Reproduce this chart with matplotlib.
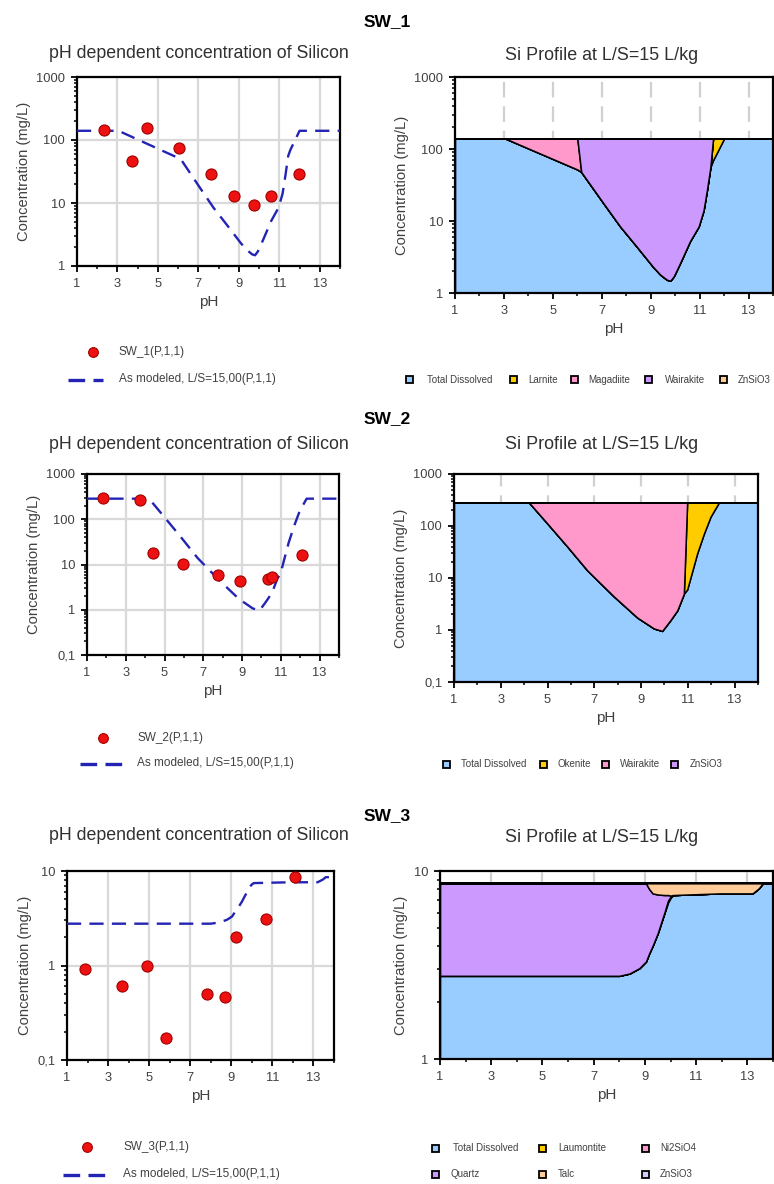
import matplotlib
matplotlib.use("Agg")
import matplotlib.pyplot as plt
from matplotlib.lines import Line2D
from matplotlib.patches import Rectangle
from matplotlib.ticker import FixedLocator, FuncFormatter, LogLocator, NullFormatter

plt.rcParams["font.family"] = ["Liberation Sans", "DejaVu Sans"]

# ---------------------------------------------------------------- data
# SW_1 measured and modeled Si (mg/L) vs pH
SW1_PH_OBS = [2.35, 3.72, 4.46, 6.06, 7.63, 8.78, 9.77, 10.59, 11.98]
SW1_SI_OBS = [143, 47, 156, 75, 28.7, 12.7, 9.3, 12.7, 28.4]

SW1_PH_MOD = [1.0, 3.05, 6.0, 6.16, 7.07, 7.75, 8.43, 9.1, 9.39, 9.66, 9.8,
              9.94, 10.2, 10.6, 10.96, 11.16, 11.3, 11.44, 11.55, 11.75, 12.0, 14.0]
SW1_DISSOLVED = [140, 140, 52, 48, 17.6, 8.4, 4.4, 2.3, 1.8, 1.53, 1.48,
                 1.7, 2.6, 5.2, 8.4, 14, 27, 56, 70, 95, 140, 140]
SW1_LARNITE = [0, 0, 0, 0, 0, 0, 0, 0, 0, 0, 0,
               0, 0, 0, 0, 0, 0, 0, 70, 45, 0, 0]
SW1_MAGADIITE = [0, 0, 88, 0, 0, 0, 0, 0, 0, 0, 0,
                 0, 0, 0, 0, 0, 0, 0, 0, 0, 0, 0]
SW1_WAIRAKITE = [0, 0, 0, 92, 122.4, 131.6, 135.6, 137.7, 138.2, 138.5, 138.5,
                 138.3, 137.4, 134.8, 131.6, 126, 113, 84, 0, 0, 0, 0]
SW1_ZNSIO3 = [0] * 22
SW1_LABELS = ["Total Dissolved", "Larnite", "Magadiite", "Wairakite", "ZnSiO3"]

# SW_2
SW2_PH_OBS = [1.84, 3.72, 4.38, 5.93, 7.74, 8.91, 10.33, 10.55, 12.1]
SW2_SI_OBS = [290, 265, 17.6, 10.2, 6.0, 4.3, 4.7, 5.2, 16.2]

SW2_PH_MOD = [1.0, 4.2, 4.99, 5.85, 6.7, 7.84, 8.84, 9.55, 9.9, 10.26,
              10.55, 10.83, 10.97, 11.4, 11.69, 11.97, 12.33, 14.0]
SW2_DISSOLVED = [285, 285, 112, 40, 14, 4.4, 1.73, 1.07, 0.96, 1.56,
                 2.4, 5.0, 6.0, 30, 72, 151, 285, 285]
SW2_OKENITE = [0, 0, 0, 0, 0, 0, 0, 0, 0, 0,
               0, 0, 279, 255, 213, 134, 0, 0]
SW2_WAIRAKITE = [0, 0, 173, 245, 271, 280.6, 283.3, 283.9, 284, 283.4,
                 282.6, 280, 0, 0, 0, 0, 0, 0]
SW2_ZNSIO3 = [0] * 18
SW2_LABELS = ["Total Dissolved", "Okenite", "Wairakite", "ZnSiO3"]

# SW_3
SW3_PH_OBS = [1.86, 3.68, 4.9, 5.82, 7.84, 8.68, 9.25, 10.69, 12.09]
SW3_SI_OBS = [0.91, 0.60, 1.0, 0.172, 0.505, 0.46, 2.0, 3.1, 8.6]

SW3_PH_MOD = [1.0, 8.0, 8.4, 8.78, 9.04, 9.17, 9.3, 9.5, 9.76, 9.9, 10.0,
              10.1, 11.9, 13.2, 13.45, 13.6, 14.0]
SW3_DISSOLVED = [2.77, 2.77, 2.85, 3.04, 3.3, 3.66, 4.0, 4.67, 5.96, 6.8, 7.2,
                 7.45, 7.6, 7.6, 8.1, 8.6, 8.6]
SW3_LAUMONTITE = [0, 0, 0, 0, 0, 0, 0, 0, 0.05, 0.15, 0.1,
                  0, 0, 0, 0, 0, 0]
SW3_NI2SIO4 = [0] * 17
SW3_QUARTZ = [5.83, 5.83, 5.75, 5.56, 5.3, 4.34, 3.6, 2.83, 1.44, 0.5, 0.1,
              0, 0, 0, 0, 0, 0]
SW3_TALC = [0, 0, 0, 0, 0, 0.6, 1.0, 1.1, 1.15, 1.15, 1.2,
            1.15, 1.0, 1.0, 0.5, 0, 0]
SW3_ZNSIO3 = [0] * 17
SW3_LABELS = ["Total Dissolved", "Laumontite", "Ni2SiO4", "Quartz", "Talc", "ZnSiO3"]

PH_TICKS = [1, 3, 5, 7, 9, 11, 13]
PH_MINOR = [2, 4, 6, 8, 10, 12, 14]

# ---------------------------------------------------------------- style
W, H = 774, 1184
LAYER_COLORS = ["#99ccff", "#ffcc00", "#ff99cc", "#cc99ff", "#ffcc99", "#ccccff"]
MODEL_BLUE = "#2424b4"
OBS_RED = "#ee1111"
TEXT_GREY = "#404040"
DASH = (0, (6, 3.5))

fig = plt.figure(figsize=(W / 100, H / 100), dpi=100)


def fx(x):
    return x / W


def fy(y):
    return 1 - y / H


def px_axes(x0, y0, x1, y1):
    return fig.add_axes([fx(x0), fy(y1), (x1 - x0) / W, (y1 - y0) / H])


def style_axes(ax, ylim, yticks):
    ax.set_yscale("log")
    ax.set_xlim(1, 14)
    ax.set_ylim(*ylim)
    ax.xaxis.set_major_locator(FixedLocator(PH_TICKS))
    ax.xaxis.set_minor_locator(FixedLocator(PH_MINOR))
    ax.yaxis.set_major_locator(FixedLocator(yticks))
    ax.yaxis.set_major_formatter(FuncFormatter(lambda v, p: f"{v:g}".replace(".", ",")))
    ax.yaxis.set_minor_locator(LogLocator(base=10, subs=range(2, 10)))
    ax.yaxis.set_minor_formatter(NullFormatter())
    for s in ax.spines.values():
        s.set_linewidth(1.6)
        s.set_color("black")
    ax.tick_params(which="major", direction="out", length=4.5, width=1.3,
                   labelsize=9.3, labelcolor=TEXT_GREY, pad=4)
    ax.tick_params(which="minor", direction="out", length=2.5, width=1.1)
    ax.set_xlabel("pH", fontsize=11, color=TEXT_GREY, labelpad=4)
    ax.set_ylabel("Concentration (mg/L)", fontsize=10.6, color=TEXT_GREY, labelpad=4)


def scatter_panel(box, ph_obs, si_obs, ph_mod, si_mod, ylim, yticks):
    ax = px_axes(*box)
    style_axes(ax, ylim, yticks)
    ax.grid(True, which="major", color="#d9d9d9", lw=1.6)
    ax.set_axisbelow(True)
    ax.plot(ph_mod, si_mod, ls=DASH, color=MODEL_BLUE, lw=1.7, zorder=3)
    ax.plot(ph_obs, si_obs, ls="none", marker="o", ms=8, mfc=OBS_RED,
            mec="#a00000", mew=0.8, zorder=4, clip_on=False)
    return ax


def area_panel(box, ph, layers, ylim, yticks):
    ax = px_axes(*box)
    style_axes(ax, ylim, yticks)
    ax.xaxis.grid(True, which="major", color="#d0d0d0", lw=1.6, ls=(0, (7, 4)))
    ax.set_axisbelow(True)
    lower = [ylim[0] * 1e-3] * len(ph)
    running = [0.0] * len(ph)
    for i, layer in enumerate(layers):
        running = [r + v for r, v in zip(running, layer)]
        ax.fill_between(ph, lower, running, facecolor=LAYER_COLORS[i],
                        edgecolor="black", lw=1.1, zorder=2)
        lower = running
    return ax


def model_legend(marker_xy, line_x, line_y, text_x, obs_label):
    mx, my = marker_xy
    fig.add_artist(Line2D([fx(mx)], [fy(my)], transform=fig.transFigure, ls="none",
                          marker="o", ms=7, mfc=OBS_RED, mec="#a00000", mew=0.8))
    fig.text(fx(text_x), fy(my), obs_label, fontsize=8.5, color=TEXT_GREY,
             ha="left", va="center")
    fig.add_artist(Line2D([fx(line_x[0]), fx(line_x[1])], [fy(line_y)] * 2,
                          transform=fig.transFigure, ls=(0, (5, 2.5)),
                          color=MODEL_BLUE, lw=2.4))
    fig.text(fx(text_x), fy(line_y - 1), "As modeled, L/S=15,00(P,1,1)",
             fontsize=8.5, color=TEXT_GREY, ha="left", va="center")


def layer_legend(entries, labels):
    for (sx, sy, tx), label, color in zip(entries, labels, LAYER_COLORS):
        s = 7
        fig.add_artist(Rectangle((fx(sx - s / 2), fy(sy + s / 2)), s / W, s / H,
                                 transform=fig.transFigure, facecolor=color,
                                 edgecolor="black", lw=1.3))
        fig.text(fx(tx), fy(sy), label, fontsize=7, color=TEXT_GREY,
                 ha="left", va="center")


def headings(y_main, y_left, y_right, name):
    fig.text(fx(387), fy(y_main), name, fontsize=12.5, fontweight="bold",
             ha="center", va="center", color="black")
    fig.text(fx(199), fy(y_left), "pH dependent concentration of Silicon",
             fontsize=12.8, ha="center", va="center", color="#303030")
    fig.text(fx(602), fy(y_right), "Si Profile at L/S=15 L/kg",
             fontsize=12.9, ha="center", va="center", color="#303030")


# ---------------------------------------------------------------- SW_1
headings(22, 53, 55, "SW_1")
scatter_panel((77, 77, 340, 266), SW1_PH_OBS, SW1_SI_OBS, SW1_PH_MOD, SW1_DISSOLVED,
              (1, 1000), [1, 10, 100, 1000])
area_panel((455, 77, 773, 293), SW1_PH_MOD,
           [SW1_DISSOLVED, SW1_LARNITE, SW1_MAGADIITE, SW1_WAIRAKITE, SW1_ZNSIO3],
           (1, 1000), [1, 10, 100, 1000])
model_legend((93, 352), (68, 103), 380, 119, "SW_1(P,1,1)")
layer_legend([(409, 380, 427), (513, 380, 528), (574, 380, 588),
              (648, 380, 665), (723, 380, 738)], SW1_LABELS)

# ---------------------------------------------------------------- SW_2
headings(419, 445, 445, "SW_2")
scatter_panel((87, 474, 339, 655), SW2_PH_OBS, SW2_SI_OBS, SW2_PH_MOD, SW2_DISSOLVED,
              (0.1, 1000), [0.1, 1, 10, 100, 1000])
area_panel((454, 474, 758, 682), SW2_PH_MOD,
           [SW2_DISSOLVED, SW2_OKENITE, SW2_WAIRAKITE, SW2_ZNSIO3],
           (0.1, 1000), [0.1, 1, 10, 100, 1000])
model_legend((103, 738), (80, 125), 764, 137, "SW_2(P,1,1)")
layer_legend([(446, 764, 461), (543, 764, 557), (605, 764, 620),
              (674, 764, 690)], SW2_LABELS)

# ---------------------------------------------------------------- SW_3
headings(816, 835, 837, "SW_3")
scatter_panel((67, 871, 334, 1060), SW3_PH_OBS, SW3_SI_OBS, SW3_PH_MOD, SW3_DISSOLVED,
              (0.1, 10), [0.1, 1, 10])
area_panel((440, 871, 773, 1059), SW3_PH_MOD,
           [SW3_DISSOLVED, SW3_LAUMONTITE, SW3_NI2SIO4, SW3_QUARTZ, SW3_TALC, SW3_ZNSIO3],
           (1, 10), [1, 10])
model_legend((87, 1147), (63, 110), 1175, 123, "SW_3(P,1,1)")
layer_legend([(435, 1148, 453), (542, 1148, 558), (645, 1148, 660),
              (435, 1174, 451), (542, 1174, 558), (645, 1174, 660)], SW3_LABELS)

fig.savefig("out.png", dpi=100, facecolor="white")
